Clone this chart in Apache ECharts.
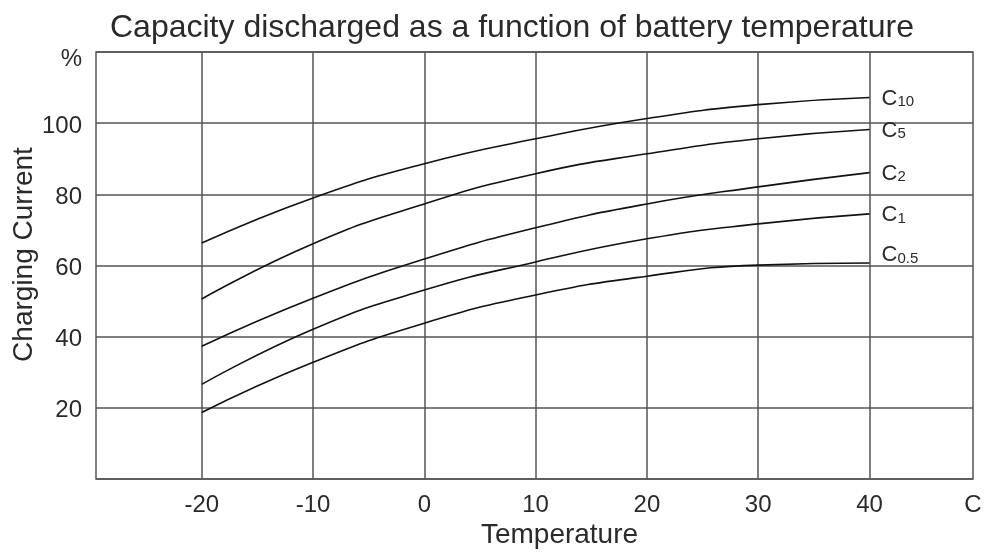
<!DOCTYPE html>
<html>
<head>
<meta charset="utf-8">
<title>Capacity discharged</title>
<script src="https://cdn.jsdelivr.net/npm/echarts@6/dist/echarts.min.js"></script>
<style>
    html, body { margin: 0; padding: 0; background: #fff; }
    #J_chartPanel { width: 984px; height: 553px; }
</style>
</head>
<body>
<div id="J_chartPanel"></div>
<script>
// values, one point every 10 degrees
var temps = [-20, -10, 0, 10, 20, 30, 40];
var c10 = [66.3, 79.0, 88.6, 95.6, 101.3, 105.2, 107.2];
var c5 = [50.6, 66.1, 77.3, 85.8, 91.4, 95.6, 98.2];
var c2 = [37.3, 50.8, 61.8, 70.6, 77.3, 82.1, 86.1];
var c1 = [26.6, 42.1, 53.1, 61.0, 67.5, 71.7, 74.5];
var c05 = [18.7, 32.8, 43.8, 51.7, 57.0, 60.1, 60.7];

var seriesNames = ['C10', 'C5', 'C2', 'C1', 'C0.5'];
var seriesSubs = ['10', '5', '2', '1', '0.5'];
var xTicks = [-20, -10, 0, 10, 20, 30, 40];
var xMin = -29.5, xMax = 49.3;
var xEndText = 'C';
var yTopText = '%';

;(function(window){
    var font = '"Liberation Sans", Arial, sans-serif';
    var textColor = '#2a2a2a';
    var gridColor = '#555';

    function pairs(ys){
        return temps.map(function(t, i){ return [t, ys[i]]; });
    }

    function makeSeries(name, sub, ys, labelOffset){
        return {
            name: name,
            type: 'line',
            data: pairs(ys),
            smooth: true,
            symbol: 'none',
            lineStyle: { color: '#111', width: 1.6 },
            endLabel: {
                show: true,
                distance: 12,
                offset: labelOffset || [0, 0],
                formatter: '{c|C}{s|' + sub + '}',
                rich: {
                    c: { fontFamily: font, fontSize: 22, color: textColor, lineHeight: 24, verticalAlign: 'bottom' },
                    s: { fontFamily: font, fontSize: 15, color: textColor, lineHeight: 17, verticalAlign: 'bottom' }
                }
            }
        };
    }

    var chart = window.echarts.init(document.getElementById('J_chartPanel'));
    chart.setOption({
        backgroundColor: '#fff',
        animation: false,
        title: {
            text: 'Capacity discharged as a function of battery temperature',
            left: 105,
            top: 7,
            textStyle: { fontFamily: font, fontSize: 32, fontWeight: 'normal', color: textColor }
        },
        grid: {
            left: 96, right: 11, top: 52, bottom: 74,
            show: true, borderColor: gridColor, borderWidth: 1.5,
            outerBoundsMode: 'none'
        },
        xAxis: {
            type: 'value',
            min: xMin,
            max: xMax,
            name: 'Temperature',
            nameLocation: 'middle',
            nameGap: 42,
            nameMoveOverlap: false,
            nameTextStyle: { fontFamily: font, fontSize: 28, color: textColor, padding: [0, 0, 0, 50] },
            axisLine: { show: false },
            axisTick: { show: false, customValues: xTicks },
            axisLabel: {
                customValues: xTicks.concat([xMax]),
                margin: 14,
                fontFamily: font, fontSize: 24, color: textColor,
                formatter: function(v){ return v > 45 ? xEndText : String(v); }
            },
            splitLine: { show: true, lineStyle: { color: gridColor, width: 1.5 } }
        },
        yAxis: {
            type: 'value',
            min: 0,
            max: 120,
            interval: 20,
            name: 'Charging Current',
            nameLocation: 'middle',
            nameGap: 58,
            nameMoveOverlap: false,
            nameTextStyle: { fontFamily: font, fontSize: 28, color: textColor, padding: [0, 0, 0, 22] },
            axisLine: { show: false },
            axisTick: { show: false },
            axisLabel: {
                margin: 14,
                padding: [6, 0, 0, 0],
                fontFamily: font, fontSize: 24, color: textColor,
                formatter: function(v){
                    if (v === 0) return '';
                    if (v === 120) return '{p|' + yTopText + '}';
                    return String(v);
                },
                rich: {
                    p: { fontFamily: font, fontSize: 24, color: textColor, padding: [9, 0, 0, 0] }
                }
            },
            splitLine: { show: true, lineStyle: { color: gridColor, width: 1.5 } }
        },
        series: [
            makeSeries(seriesNames[0], seriesSubs[0], c10),
            makeSeries(seriesNames[1], seriesSubs[1], c5),
            makeSeries(seriesNames[2], seriesSubs[2], c2),
            makeSeries(seriesNames[3], seriesSubs[3], c1),
            makeSeries(seriesNames[4], seriesSubs[4], c05, [0, -9])
        ]
    });
})(window);
</script>
</body>
</html>
